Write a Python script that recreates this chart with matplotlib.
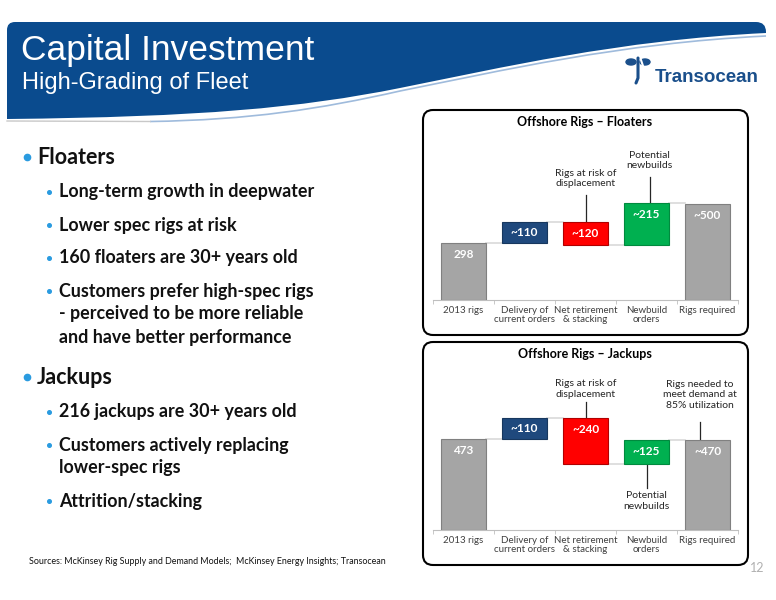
import matplotlib
matplotlib.use("Agg")
import matplotlib.pyplot as plt
from matplotlib.patches import FancyBboxPatch, PathPatch, Ellipse
from matplotlib.path import Path

# ---- data ----
categories = ["2013 rigs", "Delivery of\ncurrent orders", "Net retirement\n& stacking",
              "Newbuild\norders", "Rigs required"]
floaters = [298, 110, -120, 215, 500]
floater_labels = ["298", "~110", "~120", "~215", "~500"]
jackups = [473, 110, -240, 125, 470]
jackup_labels = ["473", "~110", "~240", "~125", "~470"]

floater_points = ["Long-term growth in deepwater",
                  "Lower spec rigs at risk",
                  "160 floaters are 30+ years old",
                  "Customers prefer high-spec rigs\n- perceived to be more reliable\nand have better performance"]
jackup_points = ["216 jackups are 30+ years old",
                 "Customers actively replacing\nlower-spec rigs",
                 "Attrition/stacking"]
sources = "Sources: McKinsey Rig Supply and Demand Models;  McKinsey Energy Insights; Transocean"

plt.rcParams["font.family"] = ["Lato", "DejaVu Sans"]

BLUE = "#0a4b8e"
bar_colors = ["#a5a5a5", "#1f497d", "#ff0000", "#00b050", "#a5a5a5"]
edge_colors = ["#808080", "#17375e", "#b00000", "#008a3e", "#808080"]

fig = plt.figure(figsize=(7.76, 6.0), dpi=100)
bg = fig.add_axes([0, 0, 1, 1], zorder=0)
bg.set_xlim(0, 776)
bg.set_ylim(600, 0)
bg.axis("off")

# ---- header band ----
verts = [(7, 119), (7, 30), (7, 22), (15, 22), (756, 22), (766, 22), (766, 32), (766, 33),
         (620, 40), (500, 68), (400, 88), (300, 108), (200, 117), (7, 119), (7, 119)]
codes = [Path.MOVETO, Path.LINETO, Path.CURVE3, Path.CURVE3, Path.LINETO, Path.CURVE3, Path.CURVE3,
         Path.LINETO, Path.CURVE4, Path.CURVE4, Path.CURVE4, Path.CURVE4, Path.CURVE4, Path.CURVE4,
         Path.CLOSEPOLY]
bg.add_patch(PathPatch(Path(verts, codes), facecolor=BLUE, edgecolor="none"))
stripe = Path([(150, 121.5), (250, 120), (320, 109), (400, 91), (500, 71), (620, 43), (766, 36)],
              [Path.MOVETO, Path.CURVE4, Path.CURVE4, Path.CURVE4, Path.CURVE4, Path.CURVE4,
               Path.CURVE4])
bg.add_patch(PathPatch(stripe, facecolor="none", edgecolor="#9fbbdc", lw=1.2))
bg.plot([7, 150], [121, 121.5], color="#c8c8c8", lw=1)

bg.text(21, 60, "Capital Investment", color="white", fontsize=25.5,
        family="Liberation Sans", va="baseline")
bg.text(22, 89, "High-Grading of Fleet", color="white", fontsize=17,
        family="Liberation Sans", va="baseline")

# logo
bg.add_patch(Ellipse((631, 62), 10, 6, color="#1a4f8b"))
bg.add_patch(Ellipse((645, 62), 10, 6, color="#1a4f8b"))
bg.plot([638, 638, 636], [58, 78, 83], color="#1a4f8b", lw=2.2, solid_capstyle="round")
bg.plot([641, 643], [60, 66], color="white", lw=1.5)
bg.text(655, 82, "Transocean", color="#1a4f8b", fontsize=13.5, fontweight="bold",
        family="Liberation Sans", va="baseline")

# ---- bullets ----
TXT = "#111111"
DOT = "#2a9be0"
y = 157
for head, points in [("Floaters", floater_points), ("Jackups", jackup_points)]:
    bg.plot(27, y, "o", ms=4.5, color=DOT)
    bg.text(37, y, head, fontsize=15.5, fontweight="bold", color=TXT, va="center")
    y += 35
    for p in points:
        for k, line in enumerate(p.split("\n")):
            if k == 0:
                bg.plot(49, y, "o", ms=2.6, color=DOT)
            bg.text(59, y, line, fontsize=12.9, fontweight="bold", color=TXT, va="center")
            y += 23
        y += 10
    y += 7

bg.text(29, 562, sources, fontsize=6.4, color=TXT, va="center")
bg.text(757, 568, "12", fontsize=9, color="#b0b0b0", va="center", ha="center")

# ---- chart frames ----
for (top, bottom), title in [((110, 335), "Offshore Rigs \u2013 Floaters"),
                             ((342, 565), "Offshore Rigs \u2013 Jackups")]:
    bg.add_patch(FancyBboxPatch((423, top), 325, bottom - top,
                                boxstyle="round,pad=0,rounding_size=10",
                                facecolor="white", edgecolor="black", lw=1.5))
    bg.text(585, top + 12, title, fontsize=9, fontweight="bold", color="black",
            ha="center", va="center")


def waterfall(ax, steps, labels):
    level = 0
    spans = []
    for i, v in enumerate(steps):
        if i == 0 or i == len(steps) - 1:
            bottom, top = 0, v
            level = v
        elif v >= 0:
            bottom, top = level, level + v
            level = top
        else:
            bottom, top = level + v, level
            level = bottom
        spans.append((bottom, top, level))
    ax.bar(range(len(steps)), [t - b for b, t, _ in spans], bottom=[b for b, _, _ in spans],
           width=0.74, color=bar_colors, edgecolor=edge_colors, linewidth=0.8, zorder=3)
    for i in range(len(steps) - 1):
        lv = spans[i][2]
        ax.plot([i + 0.37, i + 0.63], [lv, lv], color="#d9d9d9", lw=1.2, zorder=2)
    for i, (b, t, _) in enumerate(spans):
        ax.text(i, t - min((t - b) / 2, 60), labels[i], color="white", fontsize=8.5,
                fontweight="bold", ha="center", va="center", zorder=4)
    ax.set_xlim(-0.5, len(steps) - 0.5)
    ax.set_ylim(0, 833)
    ax.set_xticks(range(len(steps)))
    ax.set_xticklabels(categories, fontsize=7, color="#404040", linespacing=1.1)
    ax.set_xticks([i - 0.5 for i in range(len(steps) + 1)], minor=True)
    ax.tick_params(axis="x", which="major", length=0, pad=4)
    ax.tick_params(axis="x", which="minor", length=3, color="#bfbfbf")
    ax.set_yticks([])
    for s in ["top", "left", "right"]:
        ax.spines[s].set_visible(False)
    ax.spines["bottom"].set_color("#bfbfbf")
    ax.set_facecolor("none")
    return spans


def note(ax, x, y, text, y0, y1):
    ax.text(x, y, text, fontsize=7.5, color="#262626", ha="center", va="center",
            linespacing=1.15)
    ax.plot([x, x], [y0, y1], color="#262626", lw=0.9, clip_on=False)


ax1 = fig.add_axes([433 / 776, 300 / 600, 305 / 776, 160 / 600], zorder=2)
s1 = waterfall(ax1, floaters, floater_labels)
note(ax1, 2, 635, "Rigs at risk of\ndisplacement", 547, s1[2][1])
note(ax1, 3.05, 724, "Potential\nnewbuilds", 640, s1[3][1])

ax2 = fig.add_axes([433 / 776, 70 / 600, 305 / 776, 160 / 600], zorder=2)
s2 = waterfall(ax2, jackups, jackup_labels)
note(ax2, 2, 734, "Rigs at risk of\ndisplacement", 667, s2[2][1])
note(ax2, 3, 151, "Potential\nnewbuilds", s2[3][0], 219)
note(ax2, 3.87, 703, "Rigs needed to\nmeet demand at\n85% utilization", 562, s2[4][1])

fig.savefig("out.png", dpi=100)
